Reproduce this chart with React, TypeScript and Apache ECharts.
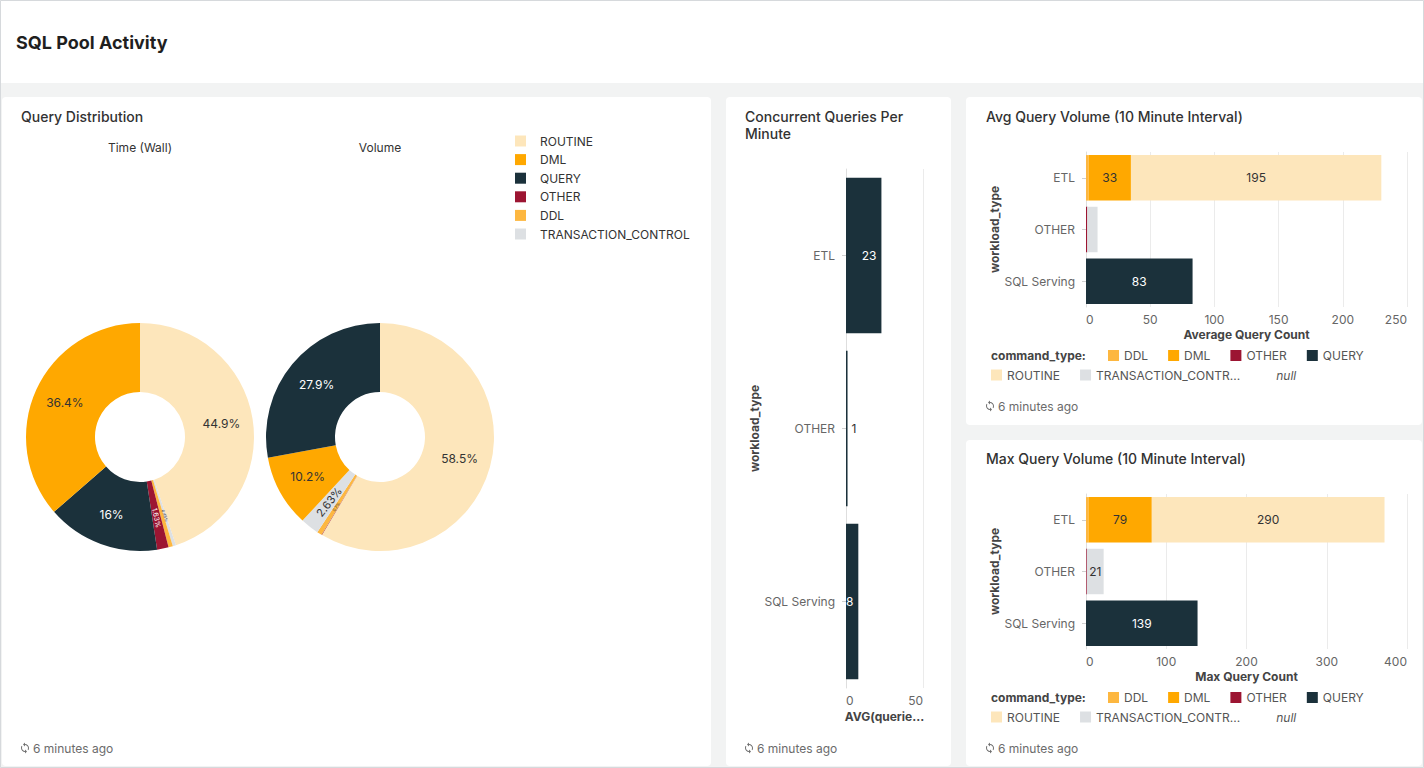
import React, { useEffect, useRef } from "react";
import * as echarts from "echarts";

// ---------- data ----------
const WORKLOADS = ["ETL", "OTHER", "SQL Serving"];
const COMMAND_TYPES = ["DDL", "DML", "OTHER", "QUERY", "ROUTINE", "TRANSACTION_CONTROL"];
const PIE_LEGEND = ["ROUTINE", "DML", "QUERY", "OTHER", "DDL", "TRANSACTION_CONTROL"];

// Query distribution (percent)
const TIME_WALL_NAMES = ["ROUTINE", "TRANSACTION_CONTROL", "DDL", "OTHER", "QUERY", "DML"];
const TIME_WALL_PCT = [44.9, 0.45, 0.62, 1.63, 16, 36.4];
const VOLUME_NAMES = ["ROUTINE", "OTHER", "DDL", "TRANSACTION_CONTROL", "DML", "QUERY"];
const VOLUME_PCT = [58.5, 0.07, 0.7, 2.63, 10.2, 27.9];

// Concurrent queries per minute (ETL, OTHER, SQL Serving)
const CONCURRENT_AVG = [23, 1, 8];
const CONCURRENT_MAX = 50;
const CONCURRENT_INTERVAL = 50;

// Avg query volume (ETL, OTHER, SQL Serving)
const AVG_DDL = [2, null, null];
const AVG_DML = [33, null, null];
const AVG_OTHER = [null, 1, null];
const AVG_QUERY = [null, null, 83];
const AVG_ROUTINE = [195, null, null];
const AVG_TC = [null, 8, null];
const AVG_MAX = 250;
const AVG_INTERVAL = 50;

// Max query volume (ETL, OTHER, SQL Serving)
const MAX_DDL = [3, null, null];
const MAX_DML = [79, null, null];
const MAX_OTHER = [null, 1, null];
const MAX_QUERY = [null, null, 139];
const MAX_ROUTINE = [290, null, null];
const MAX_TC = [null, 21, null];
const MAX_MAX = 400;
const MAX_INTERVAL = 100;

// ---------- styles ----------
const COLORS: Record<string, string> = {
  ROUTINE: "#fde6bb",
  DML: "#ffa800",
  QUERY: "#1b313b",
  OTHER: "#9c1532",
  DDL: "#fdb740",
  TRANSACTION_CONTROL: "#dde0e3",
};
const DARK = new Set(["QUERY", "OTHER"]);
const FONT = "Inter, 'Noto Sans', sans-serif";

const SYNC_D =
  "M12 4V1L8 5l4 4V6c3.31 0 6 2.69 6 6 0 1.01-.25 1.97-.7 2.8l1.460 1.46C19.54 15.03 20 13.57 20 12c0-4.42-3.58-8-8-8zm0 14c-3.31 0-6-2.690-6-6 0-1.01.25-1.97.7-2.8L5.24 7.74C4.46 8.97 4 10.43 4 12c0 4.42 3.58 8 8 8v3l4-4-4-4v3z";
let registered = false;
function ensureShapes() {
  if (registered) return;
  echarts.graphic.registerShape("sync", echarts.graphic.extendPath(SYNC_D, {}) as any);
  registered = true;
}

function fmtPct(v: number) {
  return String(Number(v.toPrecision(3))) + "%";
}

function pieData(names: string[], values: number[]) {
  return names.map((n, i) => {
    const v = values[i];
    const fs = v >= 5 ? 12 : v >= 2 ? 11 : v >= 1 ? 7 : 4;
    return {
      name: n,
      value: v,
      itemStyle: { color: COLORS[n] },
      label: {
        color: DARK.has(n) ? "#fff" : "#333",
        fontSize: fs,
        rotate: v < 5 ? "radial" : 0,
      },
    };
  });
}

function text(x: number, y: number, t: string, extra: any = {}) {
  return {
    type: "text",
    x,
    y,
    z: 5,
    style: {
      text: t,
      fill: extra.fill || "#333",
      fontSize: extra.fontSize || 12,
      fontWeight: extra.fontWeight || "normal",
      fontStyle: extra.fontStyle || "normal",
      fontFamily: FONT,
      align: extra.align || "left",
      textAlign: extra.align || "left",
      verticalAlign: "middle",
      textVerticalAlign: "middle",
      lineHeight: extra.lineHeight,
    },
  };
}

function footer(x: number, y: number) {
  const s = 0.5;
  return [
    {
      type: "sync",
      x: x - 4 * s,
      y: y - 12 * s,
      scaleX: s,
      scaleY: s,
      z: 5,
      style: { fill: "#6f6f6f" },
    },
    text(x + 12, y, "6 minutes ago", { fill: "#6b6b6b" }),
  ];
}

function panel(x: number, y: number, w: number, h: number) {
  return {
    type: "rect",
    z: -8,
    shape: { x, y, width: w, height: h, r: 4 },
    style: { fill: "#ffffff" },
  };
}

function valueXAxis(gridIndex: number, max: number, interval: number, name: string, nameGap: number) {
  return {
    gridIndex,
    type: "value",
    min: 0,
    max,
    interval,
    name,
    nameLocation: "middle",
    nameGap,
    nameTextStyle: { fontWeight: "bold", fontSize: 12, color: "#444", fontFamily: FONT },
    axisLine: { show: false },
    axisTick: { show: false },
    axisLabel: {
      color: "#666",
      fontSize: 12,
      margin: 6,
      fontFamily: FONT,
      alignMinLabel: "left",
      alignMaxLabel: "right",
    },
    splitLine: { show: true, lineStyle: { color: "#ebebeb" } },
  };
}

function categoryYAxis(gridIndex: number) {
  return {
    gridIndex,
    type: "category",
    inverse: true,
    data: WORKLOADS,
    name: "workload_type",
    nameLocation: "middle",
    nameGap: 83,
    nameTextStyle: { fontWeight: "bold", fontSize: 12, color: "#444", fontFamily: FONT },
    axisLine: { show: true, lineStyle: { color: "#dedede" } },
    axisTick: { show: true, alignWithLabel: true, length: 4, lineStyle: { color: "#d0d0d0" } },
    axisLabel: { color: "#666", fontSize: 12, margin: 11, fontFamily: FONT },
  };
}

function stackedSeries(axisIndex: number, stack: string, arrays: (number | null)[][], pxPerUnit: number) {
  const list: any[] = COMMAND_TYPES.map((ct, i) => ({
    type: "bar",
    name: ct,
    xAxisIndex: axisIndex,
    yAxisIndex: axisIndex,
    stack,
    barCategoryGap: "12%",
    itemStyle: { color: COLORS[ct] },
    label: {
      show: true,
      position: "inside",
      color: DARK.has(ct) ? "#fff" : "#333",
      fontSize: 12,
      fontFamily: FONT,
    },
    emphasis: { disabled: true },
    data: arrays[i].map((v) =>
      v == null ? null : { value: v, label: { show: v * pxPerUnit >= 14 } }
    ),
  }));
  list.push({
    type: "bar",
    name: "null",
    xAxisIndex: axisIndex,
    yAxisIndex: axisIndex,
    stack,
    itemStyle: { color: "rgba(0,0,0,0)" },
    data: [null, null, null],
  });
  return list;
}

function barLegends(rowY1: number, rowY2: number) {
  const common = {
    orient: "horizontal",
    itemWidth: 11,
    itemHeight: 11,
    itemGap: 20,
    icon: "rect",
    selectedMode: false,
    padding: 0,
    textStyle: { fontSize: 12, color: "#555", fontFamily: FONT },
    formatter: (n: string) => (n === "TRANSACTION_CONTROL" ? "TRANSACTION_CONTR..." : n),
  };
  return [
    { ...common, left: 1108, top: rowY1 - 6, data: ["DDL", "DML", "OTHER", "QUERY"] },
    {
      ...common,
      left: 991,
      top: rowY2 - 6,
      data: [
        "ROUTINE",
        "TRANSACTION_CONTROL",
        { name: "null", icon: "none", textStyle: { fontStyle: "italic", color: "#555" } },
      ],
    },
  ];
}

export default function App() {
  const ref = useRef<HTMLDivElement>(null);

  useEffect(() => {
    if (!ref.current) return;
    ensureShapes();
    const chart = echarts.init(ref.current, undefined, { renderer: "svg" });

    const avgArrays = [AVG_DDL, AVG_DML, AVG_OTHER, AVG_QUERY, AVG_ROUTINE, AVG_TC];
    const maxArrays = [MAX_DDL, MAX_DML, MAX_OTHER, MAX_QUERY, MAX_ROUTINE, MAX_TC];
    const concurrentPx = 77 / CONCURRENT_MAX;

    const option: any = {
      animation: false,
      backgroundColor: "#f2f3f3",
      textStyle: { fontFamily: FONT },
      graphic: [
        {
          type: "rect",
          z: -10,
          shape: { x: 0.5, y: 0.5, width: 1423, height: 767 },
          style: { fill: "#f2f3f3", stroke: "#d6d9dc", lineWidth: 1 },
        },
        {
          type: "rect",
          z: -9,
          shape: { x: 1, y: 1, width: 1422, height: 82 },
          style: { fill: "#ffffff" },
        },
        panel(2, 97, 709, 669),
        panel(726, 97, 225, 669),
        panel(966, 97, 456, 328),
        panel(966, 440, 456, 326),
        text(16, 42, "SQL Pool Activity", { fontSize: 18, fontWeight: "bold", fill: "#1f1f1f" }),
        text(21, 116, "Query Distribution", { fontSize: 14, fontWeight: 500, fill: "#323232" }),
        text(140, 147, "Time (Wall)", { align: "center" }),
        text(380, 147, "Volume", { align: "center" }),
        text(745, 124.5, "Concurrent Queries Per\nMinute", {
          fontSize: 14,
          fontWeight: 500,
          fill: "#323232",
          lineHeight: 17,
        }),
        text(986, 116, "Avg Query Volume (10 Minute Interval)", {
          fontSize: 14,
          fontWeight: 500,
          fill: "#323232",
        }),
        text(986, 458, "Max Query Volume (10 Minute Interval)", {
          fontSize: 14,
          fontWeight: 500,
          fill: "#323232",
        }),
        text(991, 355.5, "command_type:", { fontWeight: "bold", fill: "#444" }),
        text(991, 697.5, "command_type:", { fontWeight: "bold", fill: "#444" }),
        ...footer(21, 748),
        ...footer(745, 748),
        ...footer(986, 406),
        ...footer(986, 748),
      ],
      legend: [
        {
          orient: "vertical",
          left: 515,
          top: 135,
          itemWidth: 11,
          itemHeight: 11,
          itemGap: 6.6,
          icon: "rect",
          padding: 0,
          selectedMode: false,
          data: PIE_LEGEND,
          textStyle: { fontSize: 12, color: "#333", fontFamily: FONT, padding: [0, 0, 0, 9] },
        },
        ...barLegends(355.5, 375),
        ...barLegends(697.5, 717),
      ],
      grid: [
        { left: 846, top: 169, width: 77, height: 519 },
        { left: 1086, top: 152, width: 321, height: 155 },
        { left: 1086, top: 494, width: 321, height: 155 },
      ],
      xAxis: [
        valueXAxis(0, CONCURRENT_MAX, CONCURRENT_INTERVAL, "AVG(querie...", 22),
        valueXAxis(1, AVG_MAX, AVG_INTERVAL, "Average Query Count", 21),
        valueXAxis(2, MAX_MAX, MAX_INTERVAL, "Max Query Count", 21),
      ],
      yAxis: [categoryYAxis(0), categoryYAxis(1), categoryYAxis(2)],
      series: [
        {
          type: "pie",
          name: "Time (Wall)",
          center: [140, 437],
          radius: [45, 114],
          startAngle: 90,
          clockwise: true,
          avoidLabelOverlap: false,
          emphasis: { disabled: true },
          label: {
            show: true,
            position: "inside",
            fontSize: 12,
            fontFamily: FONT,
            formatter: (p: any) => fmtPct(p.value),
          },
          labelLine: { show: false },
          data: pieData(TIME_WALL_NAMES, TIME_WALL_PCT),
        },
        {
          type: "pie",
          name: "Volume",
          center: [380, 437],
          radius: [45, 114],
          startAngle: 90,
          clockwise: true,
          avoidLabelOverlap: false,
          emphasis: { disabled: true },
          label: {
            show: true,
            position: "inside",
            fontSize: 12,
            fontFamily: FONT,
            formatter: (p: any) => fmtPct(p.value),
          },
          labelLine: { show: false },
          data: pieData(VOLUME_NAMES, VOLUME_PCT),
        },
        {
          type: "bar",
          name: "AVG(queries)",
          xAxisIndex: 0,
          yAxisIndex: 0,
          barCategoryGap: "10%",
          itemStyle: { color: COLORS.QUERY },
          emphasis: { disabled: true },
          label: {
            show: true,
            position: "insideRight",
            distance: 5,
            color: "#fff",
            fontSize: 12,
            fontFamily: FONT,
          },
          data: CONCURRENT_AVG.map((v) =>
            v * concurrentPx < 10
              ? { value: v, label: { position: "right", distance: 4, color: "#333" } }
              : { value: v }
          ),
        },
        ...stackedSeries(1, "avg", avgArrays, 321 / AVG_MAX),
        ...stackedSeries(2, "max", maxArrays, 321 / MAX_MAX),
      ],
    };

    chart.setOption(option);
    return () => {
      chart.dispose();
    };
  }, []);

  return (
    <div
      ref={ref}
      style={{ position: "absolute", left: 0, top: 0, width: 1424, height: 768 }}
    />
  );
}
